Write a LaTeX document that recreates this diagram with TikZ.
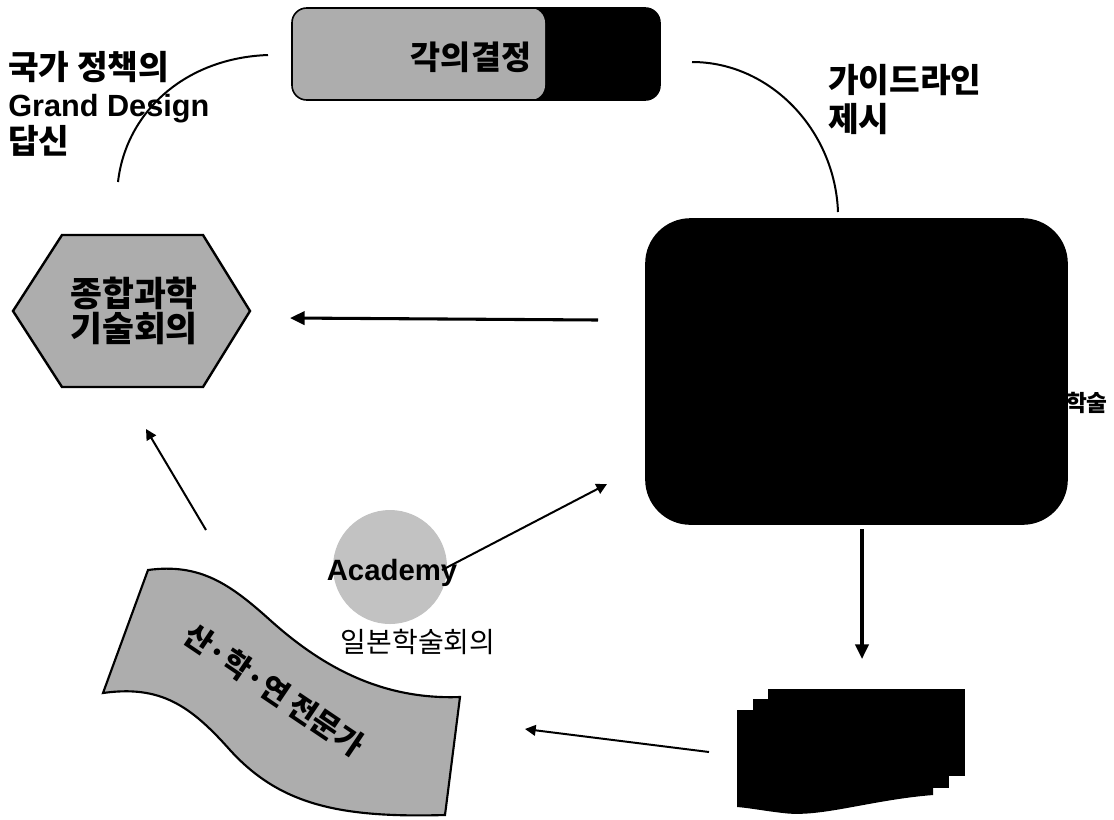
\documentclass[tikz,border=0pt]{standalone}
\usepackage{fontspec}
\setmainfont{Liberation Sans}
\newfontfamily\kr{Noto Sans CJK KR}
\usetikzlibrary{arrows.meta,calc}
\tikzset{
  halftone/.style={fill=black!32},
  arcline/.style={line width=1.5pt},
  thinarrow/.style={line width=1.5pt,-{Triangle[length=8pt,width=8pt]}},
  thickarrow/.style={line width=2.3pt,-{Triangle[length=11pt,width=10pt]}},
  lbl/.style={inner sep=0pt,font=\fontsize{23pt}{28pt}\selectfont\bfseries},
  krlbl/.style={inner sep=0pt,font=\fontsize{25pt}{28pt}\selectfont\kr\bfseries},
  cabbox/.style={draw=black,line width=1.2pt,fill=black,rounded corners=11pt,
    minimum width=276pt,minimum height=69pt,inner sep=0pt,
    path picture={\fill[black!32] (path picture bounding box.north west) rectangle
      ($(path picture bounding box.south west)!0.6875!(path picture bounding box.south east)$);}},
  cabtext/.style={inner sep=0pt,font=\fontsize{24.5pt}{26pt}\selectfont\kr\bfseries},
  hexshape/.style={draw=black,line width=1.8pt,halftone,line join=miter},
  hextext/.style={align=center,inner sep=0pt,font=\fontsize{26pt}{26pt}\selectfont\kr\bfseries},
  bigbox/.style={fill=black,rounded corners=34pt,minimum width=317pt,minimum height=230pt,inner sep=0pt},
  acadcircle/.style={circle,fill=black!24,minimum size=85.5pt,inner sep=0pt},
  bannershape/.style={draw=black,line width=1.6pt,halftone},
  bannertext/.style={rotate=-34,inner sep=0pt,font=\fontsize{22.5pt}{25pt}\selectfont\kr\bfseries},
}
\begin{document}
\begin{tikzpicture}[x=0.75pt,y=-0.75pt]
\useasboundingbox (0,0) rectangle (1114,819);

% top box
\node[cabbox] (cab) at (476,54) {};
\node[cabtext] (cabtxt) at (471,57) {각의결정};

% left and right labels
\node[krlbl,anchor=base west] (t1) at (8,79) {국가 정책의};
\node[lbl,anchor=base west] (t2) at (8,116) {Grand Design};
\node[krlbl,anchor=base west] (t3) at (8,153) {답신};
\node[krlbl,anchor=base west] (r1) at (828,92) {가이드라인};
\node[krlbl,anchor=base west] (r2) at (828,131) {제시};

% hexagon
\draw[hexshape] (13,311) -- (62,235) -- (203,235) -- (250,311) -- (203,387) -- (62,387) -- cycle;
\node[hextext] (hex) at (134,311) {종합과학\\기술회의};

% big black box with text peeking out
\node[anchor=east,inner sep=0pt,font=\fontsize{17pt}{20pt}\selectfont\kr\bfseries] (haksul) at (1108,403) {학술};
\node[bigbox] (big) at (856.5,371.5) {};

% academy circle
\node[acadcircle] (acad) at (390,567) {};
\node[inner sep=0pt,font=\fontsize{22pt}{26pt}\selectfont\bfseries] (acadtxt) at (392,573) {Academy};
\node[inner sep=0pt,font=\fontsize{21pt}{25pt}\selectfont\kr] (jsc) at (418,642) {일본학술회의};

% banner
\draw[bannershape] (148,570) .. controls (200,563) and (230,584) .. (270,620)
  .. controls (320,665) and (380,700) .. (460,697) -- (445,815)
  .. controls (340,818) and (280,805) .. (230,750)
  .. controls (190,705) and (160,685) .. (103,693) -- cycle;
\node[bannertext] (banner) at (274,690) {산·학·연 전문가};

% document stack
\fill (768,689) rectangle (965,776);
\fill (753,699) rectangle (949,788);
\fill (737,710) -- (933,710) -- (933,795) .. controls (870,800) and (820,818) .. (783,813)
  .. controls (765,811) and (750,808) .. (737,807) -- cycle;
\coordinate (docs) at (850,750);

% connector end points
\coordinate (hextop) at (118,182);
\coordinate (cableft) at (268,55);
\coordinate (cabright) at (692,62);
\coordinate (bigtop) at (838,212);
\coordinate (bigwest) at (598,320);
\coordinate (hexeast) at (290,318);
\coordinate (acadeast) at (442,570);
\coordinate (bigsw) at (607,484);
\coordinate (bannertop) at (206,530);
\coordinate (hexbottom) at (146,429);
\coordinate (bigsouth) at (862,529);
\coordinate (docsnorth) at (862,659);
\coordinate (docswest) at (709,752);
\coordinate (bannereast) at (525,729);

% arcs
\draw[arcline] (hextop) .. controls (126,112) and (185,58) .. (cableft);
\draw[arcline] (cabright) .. controls (770,62) and (835,130) .. (bigtop);

% arrows
\draw[thickarrow] (bigwest) -- (hexeast);
\draw[thinarrow] (acadeast) -- (bigsw);
\draw[thinarrow] (bannertop) -- (hexbottom);
\draw[thickarrow] (bigsouth) -- (docsnorth);
\draw[thinarrow] (docswest) -- (bannereast);
\end{tikzpicture}
\end{document}
